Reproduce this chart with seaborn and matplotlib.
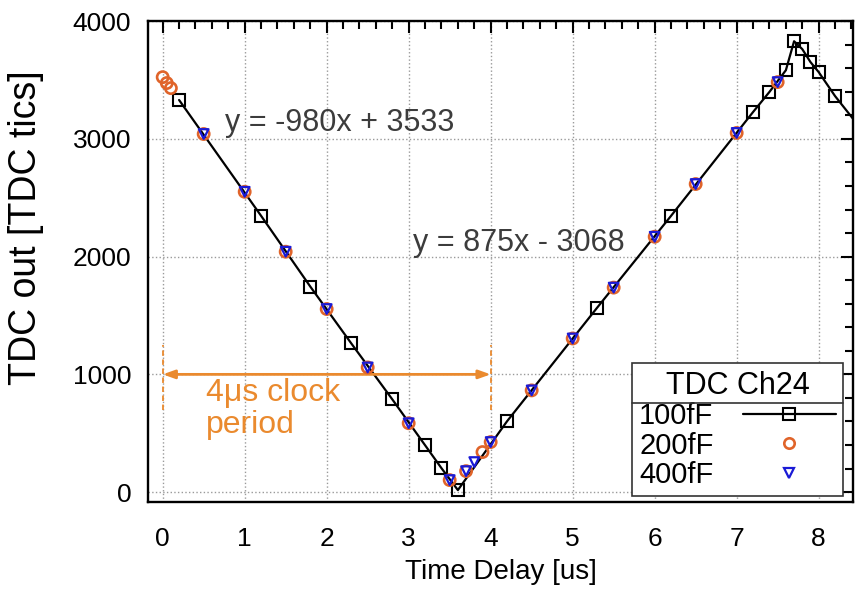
import numpy as np
import pandas as pd
import matplotlib
matplotlib.use('Agg')
import matplotlib.pyplot as plt
from matplotlib.lines import Line2D
from matplotlib.ticker import MultipleLocator
import seaborn as sns

# Data (time delay in us, TDC output in tics)
delay_100 = [0.2, 1.2, 1.8, 2.3, 2.8, 3.2, 3.4, 3.6, 4.2, 5.3, 6.2,
             7.2, 7.4, 7.6, 7.7, 7.8, 7.9, 8.0, 8.2, 8.5]
tdc_100 = [3331, 2347, 1746, 1263, 788, 398, 203, 17, 602, 1568, 2347,
           3229, 3400, 3584, 3830, 3763, 3653, 3568, 3364, 3100]

delay_200 = [0.0, 0.05, 0.1, 0.5, 1.0, 1.5, 2.0, 2.5, 3.0, 3.5, 3.7, 3.9,
             4.0, 4.5, 5.0, 5.5, 6.0, 6.5, 7.0, 7.5]
tdc_200 = [3525, 3475, 3432, 3042, 2551, 2042, 1555, 1059, 585, 102, 178, 340,
           425, 864, 1305, 1737, 2169, 2617, 3051, 3483]

delay_400 = [0.5, 1.0, 1.5, 2.0, 2.5, 3.0, 3.5, 3.7, 3.8, 4.0, 4.5, 5.0,
             5.5, 6.0, 6.5, 7.0, 7.5]
tdc_400 = [3042, 2551, 2042, 1555, 1059, 585, 102, 178, 255, 425, 864, 1305,
           1737, 2169, 2617, 3051, 3483]

fit_falling = 'y = -980x + 3533'
fit_rising = 'y = 875x - 3068'
period_start, period_end, period_level = 0, 4, 1000

orange = '#ea8a2e'
c200 = '#e0642a'
c400 = '#1a1ad6'

sns.set_style('white')
plt.rcParams['font.family'] = ['Liberation Sans', 'DejaVu Sans']
plt.rcParams['text.color'] = 'black'
plt.rcParams['axes.labelcolor'] = 'black'

fig = plt.figure(figsize=(8.6, 5.9), dpi=100)
ax = fig.add_axes([0.172, 0.149, 0.820, 0.815])

df100 = pd.DataFrame({'delay': delay_100, 'tdc': tdc_100})
df200 = pd.DataFrame({'delay': delay_200, 'tdc': tdc_200})
df400 = pd.DataFrame({'delay': delay_400, 'tdc': tdc_400})

sns.lineplot(data=df100, x='delay', y='tdc', sort=False, estimator=None,
             color='black', lw=1.6, marker='s', markersize=8,
             markerfacecolor='none', markeredgecolor='black',
             markeredgewidth=1.5, ax=ax, zorder=3)
sns.scatterplot(data=df200, x='delay', y='tdc', marker='o', s=65,
                facecolors='none', edgecolor=c200, linewidth=1.9,
                ax=ax, zorder=4)
sns.scatterplot(data=df400, x='delay', y='tdc', marker='v', s=48,
                facecolors='none', edgecolor=c400, linewidth=1.6,
                ax=ax, zorder=5)

ax.set_xlim(-0.18, 8.42)
ax.set_ylim(-85, 4000)
ax.xaxis.set_major_locator(MultipleLocator(1))
ax.xaxis.set_minor_locator(MultipleLocator(0.2))
ax.yaxis.set_major_locator(MultipleLocator(1000))
ax.yaxis.set_minor_locator(MultipleLocator(200))
ax.tick_params(which='both', direction='in', top=True, right=True,
               width=1.5, colors='black')
ax.tick_params(which='major', length=8.5, labelsize=19)
ax.tick_params(axis='x', which='major', pad=18)
ax.tick_params(axis='y', which='major', pad=12)
ax.tick_params(which='minor', length=5.5)
ax.grid(True, which='major', ls=':', color='#9a9a9a', lw=1.0)
ax.set_axisbelow(True)
for s in ax.spines.values():
    s.set_linewidth(1.7)
    s.set_color('black')

ax.set_xlabel('Time Delay [us]', fontsize=20, labelpad=6)
ax.set_ylabel('TDC out [TDC tics]', fontsize=27)
ax.yaxis.set_label_coords(-0.148, 0.57)

ax.text(0.76, 3135, fit_falling, fontsize=22, color='#3c3c3c',
        ha='left', va='center')
ax.text(3.05, 2115, fit_rising, fontsize=22, color='#3c3c3c',
        ha='left', va='center')

# clock period marker
ax.annotate('', xy=(period_start, period_level), xytext=(period_end, period_level),
            arrowprops=dict(arrowstyle='<|-|>,head_length=0.7,head_width=0.25',
                            color=orange, lw=2, shrinkA=0, shrinkB=0))
ax.vlines([period_start, period_end], 700, 1250, colors=orange,
          linestyles=(0, (3, 2)), lw=1.3)
ax.text(0.53, 965, '4μs clock\nperiod', fontsize=23, color=orange,
        ha='left', va='top', linespacing=1.05)

handles = [
    Line2D([], [], color='black', lw=1.6, marker='s', markersize=8,
           markerfacecolor='none', markeredgewidth=1.5),
    Line2D([], [], ls='none', marker='o', markersize=7.5,
           markerfacecolor='none', markeredgecolor=c200, markeredgewidth=1.9),
    Line2D([], [], ls='none', marker='v', markersize=7.5,
           markerfacecolor='none', markeredgecolor=c400, markeredgewidth=1.6),
]
leg = ax.legend(handles, ['100fF', '200fF', '400fF'], title='TDC Ch24',
                loc='lower right', bbox_to_anchor=(0.986, 0.012),
                borderaxespad=0, markerfirst=False, fontsize=21,
                title_fontsize=22, frameon=True, fancybox=False,
                framealpha=1, edgecolor='#333333', labelspacing=0.05,
                handlelength=3.2, borderpad=0.25, handletextpad=1.0)
leg.get_frame().set_linewidth(1.2)
leg.set_zorder(10)

fig.canvas.draw()
lb = leg.get_window_extent()
tb = leg.get_title().get_window_extent()
ysep = tb.y0 - 2
fig.add_artist(Line2D([lb.x0, lb.x1], [ysep, ysep], transform=None,
                      color='#333333', lw=1.2, zorder=11))

fig.savefig('out.png', dpi=100)
